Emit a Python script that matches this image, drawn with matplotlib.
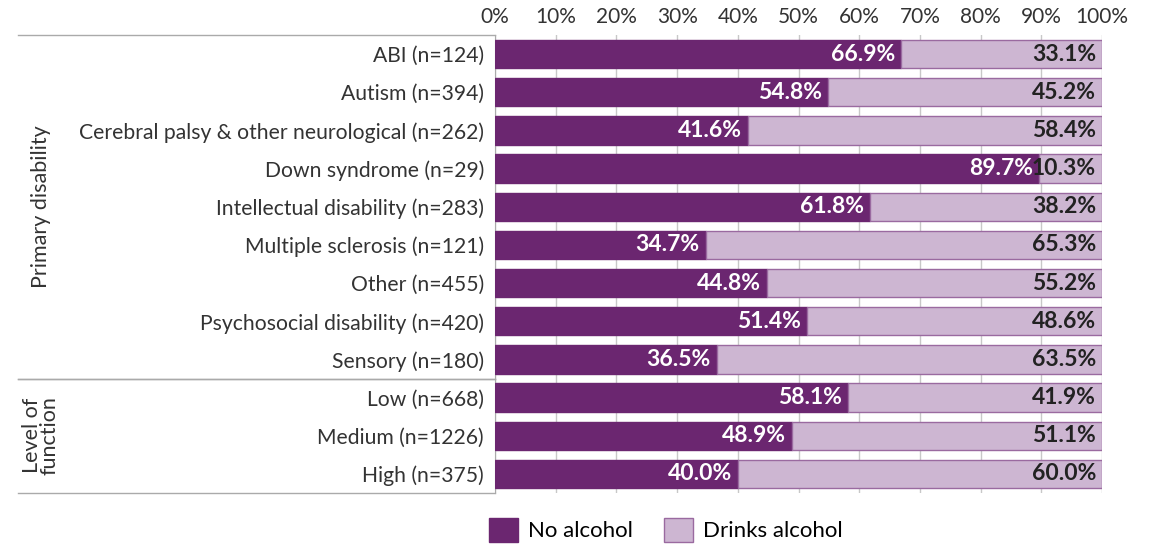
import matplotlib
matplotlib.use("Agg")
import matplotlib.pyplot as plt
from matplotlib.lines import Line2D
from matplotlib.patches import Patch

plt.rcParams['font.family'] = ['Lato', 'DejaVu Sans']

categories = [
    "ABI (n=124)",
    "Autism (n=394)",
    "Cerebral palsy & other neurological (n=262)",
    "Down syndrome (n=29)",
    "Intellectual disability (n=283)",
    "Multiple sclerosis (n=121)",
    "Other (n=455)",
    "Psychosocial disability (n=420)",
    "Sensory (n=180)",
    "Low (n=668)",
    "Medium (n=1226)",
    "High (n=375)",
]
no_alcohol = [66.9, 54.8, 41.6, 89.7, 61.8, 34.7, 44.8, 51.4, 36.5, 58.1, 48.9, 40.0]
drinks_alcohol = [33.1, 45.2, 58.4, 10.3, 38.2, 65.3, 55.2, 48.6, 63.5, 41.9, 51.1, 60.0]
x_ticks = [0, 10, 20, 30, 40, 50, 60, 70, 80, 90, 100]
groups = [("Primary disability", 0, 9), ("Level of\nfunction", 9, 12)]

dark = "#6b2670"
light = "#cdb6d2"
light_edge = "#9a6aa0"
grid_c = "#c8c8c8"
text_c = "#333333"

W, H = 1159, 546
fig = plt.figure(figsize=(W / 100, H / 100), dpi=100)
ax = fig.add_axes([495 / W, 1 - 493 / H, (1102 - 495) / W, (493 - 35) / H])

ypos = list(range(len(categories)))
bh = 0.74
ax.barh(ypos, no_alcohol, height=bh, color=dark, edgecolor=dark, linewidth=1, zorder=3)
ax.barh(ypos, drinks_alcohol, left=no_alcohol, height=bh, color=light,
        edgecolor=light_edge, linewidth=1, zorder=3)

for y, a, b in zip(ypos, no_alcohol, drinks_alcohol):
    ax.text(a - 1.0, y, f"{a:.1f}%", ha="right", va="center", color="white",
            fontsize=16.5, fontweight="bold", zorder=4)
    ax.text(a + b - 1.0, y, f"{b:.1f}%", ha="right", va="center", color="#222222",
            fontsize=16.5, fontweight="bold", zorder=4)

ax.set_xlim(0, 100)
ax.set_ylim(len(categories) - 0.5, -0.5)
ax.set_xticks(x_ticks)
ax.set_xticklabels([f"{t}%" for t in x_ticks], fontsize=15, color=text_c)
ax.xaxis.tick_top()
ax.tick_params(axis="x", length=0, pad=6)
ax.set_yticks(ypos)
ax.set_yticklabels(categories, fontsize=15.2, color=text_c)
ax.tick_params(axis="y", length=0, pad=8)
ax.grid(axis="x", color=grid_c, linewidth=1, zorder=0)
for s in ["top", "right", "bottom"]:
    ax.spines[s].set_visible(False)
ax.spines["left"].set_color("#aaaaaa")

# group separators and labels on the left
x0 = 18 / W
x1 = 495 / W
for name, start, end in groups:
    y_top = 1 - (35 + start * (458 / 12)) / H
    y_bot = 1 - (35 + end * (458 / 12)) / H
    fig.add_artist(Line2D([x0, x1], [y_top, y_top], color="#aaaaaa", lw=1))
    fig.add_artist(Line2D([x0, x1], [y_bot, y_bot], color="#aaaaaa", lw=1))
    fig.text(41 / W, (y_top + y_bot) / 2, name, rotation=90, ha="center", va="center",
             fontsize=15.5, color=text_c, linespacing=0.85)

handles = [Patch(facecolor=dark, edgecolor=dark, label="No alcohol"),
           Patch(facecolor=light, edgecolor=light_edge, label="Drinks alcohol")]
fig.legend(handles=handles, loc="center", bbox_to_anchor=(666 / W, 1 - 530 / H), ncol=2,
           frameon=False, fontsize=16, handlelength=1.3, handleheight=1.3,
           columnspacing=1.4, handletextpad=0.45, borderpad=0)

fig.savefig("out.png", dpi=100)
